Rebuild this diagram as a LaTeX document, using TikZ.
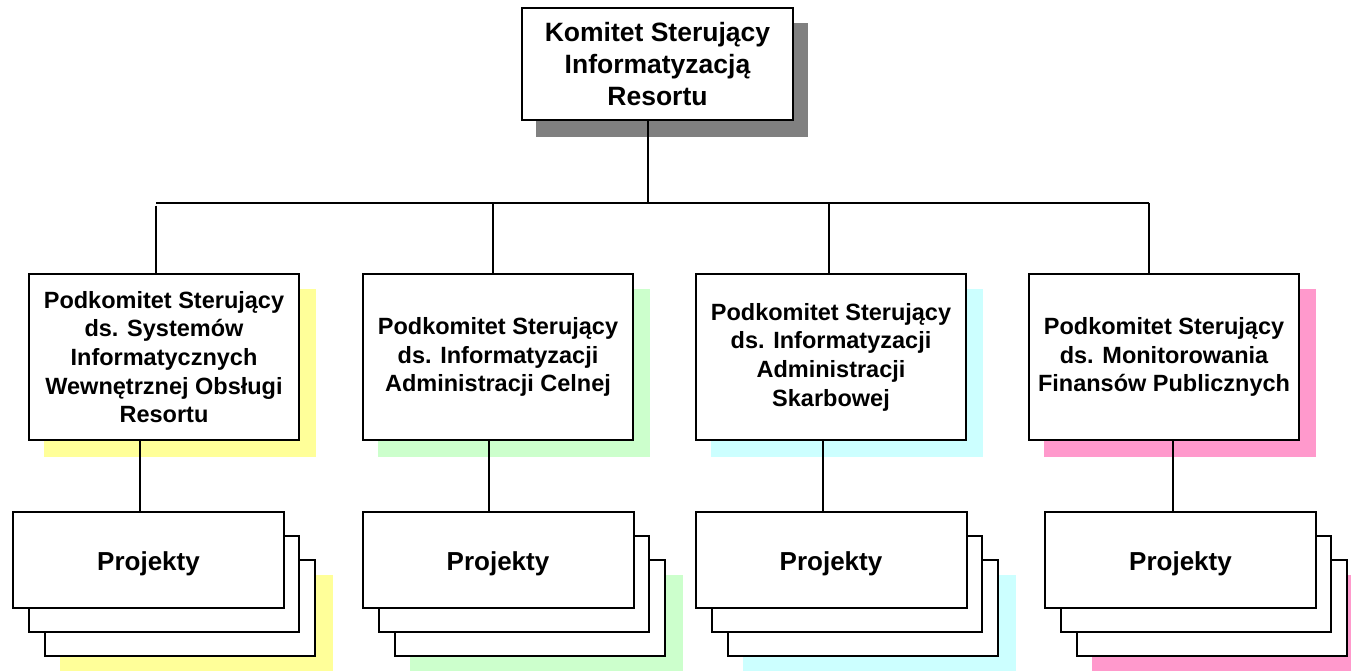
\documentclass[tikz,border=0pt]{standalone}
\usepackage{fontspec}
\setmainfont{Liberation Sans}
\definecolor{shGrey}{HTML}{808080}
\definecolor{shYellow}{HTML}{FFFF99}
\definecolor{shGreen}{HTML}{CCFFCC}
\definecolor{shCyan}{HTML}{CCFFFF}
\definecolor{shPink}{HTML}{FF99CC}
\begin{document}
\begin{tikzpicture}[x=1pt,y=-1pt,
  box/.style={draw=black,line width=2pt,fill=white,inner sep=0pt,align=center},
  topbox/.style={box,minimum width=271pt,minimum height=112pt,
    font=\fontsize{26.5}{32}\selectfont\bfseries},
  subbox/.style={box,minimum width=270pt,minimum height=166pt,
    font=\fontsize{23.5}{28.7}\selectfont\bfseries},
  projbox/.style={box,minimum width=271pt,minimum height=96pt,
    text height=25pt,text depth=5pt,
    font=\fontsize{26}{31}\selectfont\bfseries},
  layer/.style={draw=black,line width=2pt,fill=white},
  link/.style={draw=black,line width=2pt}]
\useasboundingbox (0,0) rectangle (1351,670);

% drop shadows
\fill[shGrey] (536,23) rectangle (808,137);
\foreach \s/\p/\c in {29/13/shYellow,363/363/shGreen,696/696/shCyan,1029/1045/shPink}{
  \fill[\c] (\s+15,289) rectangle (\s+287,457);
  \fill[\c] (\p+47,575) rectangle (\p+320,671);
  % stacked project sheets behind the front sheet
  \draw[layer] (\p+32,560) rectangle (\p+302,656);
  \draw[layer] (\p+16,536) rectangle (\p+286,632);
}

% committee
\node[topbox] (K) at (657.5,64) {Komitet Sterujący\\Informatyzacją\\Resortu};

% subcommittees
\node[subbox] (S1) at (164,357) {Podkomitet Sterujący\\ds. Systemów\\Informatycznych\\Wewnętrznej Obsługi\\Resortu};
\node[subbox] (S2) at (498,357) {Podkomitet Sterujący\\ds. Informatyzacji\\Administracji Celnej};
\node[subbox] (S3) at (831,357) {Podkomitet Sterujący\\ds. Informatyzacji\\Administracji\\Skarbowej};
\node[subbox] (S4) at (1164,357) {Podkomitet Sterujący\\ds. Monitorowania\\Finansów Publicznych};

% projects
\node[projbox] (P1) at (148.5,560) {Projekty};
\node[projbox] (P2) at (498,560) {Projekty};
\node[projbox] (P3) at (831,560) {Projekty};
\node[projbox] (P4) at (1180.5,560) {Projekty};

% bus
\coordinate (J) at (648,202.5);
\coordinate (B1) at (156,202.5);
\coordinate (B2) at (493,202.5);
\coordinate (B3) at (829,202.5);
\coordinate (B4) at (1149,202.5);
\draw[link] (K.south -| J) -- (J);
\draw[link] (B1) -- (B4);
\draw[link] ([yshift=-3pt]B1) -- (B1 |- S1.north);
\draw[link] (B2) -- (B2 |- S2.north);
\draw[link] (B3) -- (B3 |- S3.north);
\draw[link] (B4) -- (B4 |- S4.north);

% subcommittee to projects
\coordinate (D1) at (140,0);
\coordinate (D2) at (489,0);
\coordinate (D3) at (823,0);
\coordinate (D4) at (1173,0);
\draw[link] (D1 |- S1.south) -- (D1 |- P1.north);
\draw[link] (D2 |- S2.south) -- (D2 |- P2.north);
\draw[link] (D3 |- S3.south) -- (D3 |- P3.north);
\draw[link] (D4 |- S4.south) -- (D4 |- P4.north);
\end{tikzpicture}
\end{document}
